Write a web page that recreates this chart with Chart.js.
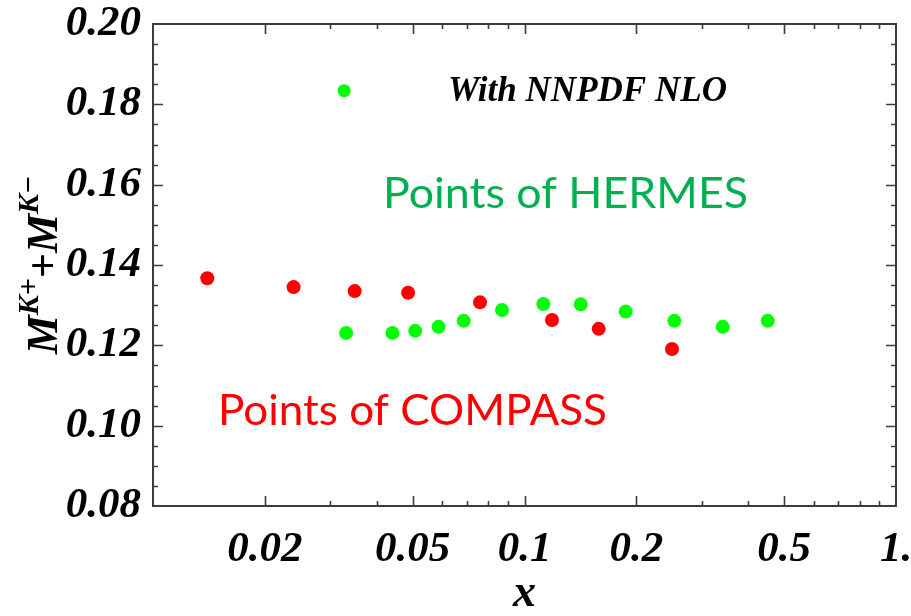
<!DOCTYPE html>
<html><head><meta charset="utf-8">
<script src="https://cdn.jsdelivr.net/npm/chart.js@4"></script>
<style>html,body{margin:0;padding:0;background:#fff}#wrap{width:911px;height:616px;position:relative}</style>
</head><body><div id="wrap"><canvas id="c" width="911" height="616"></canvas></div>
<script>
// ---- data ----
const compassX = [0.0140, 0.0239, 0.0349, 0.0486, 0.0759, 0.1186, 0.1584, 0.2495];
const compassY = [0.1367, 0.1345, 0.1335, 0.1331, 0.1307, 0.1263, 0.1241, 0.1191];
const hermesX = [0.0331, 0.0441, 0.0508, 0.0587, 0.0686, 0.0870, 0.1124, 0.1417, 0.1873, 0.2531, 0.3416, 0.4515];
const hermesY = [0.1231, 0.1231, 0.1236, 0.1246, 0.1261, 0.1288, 0.1303, 0.1302, 0.1284, 0.1261, 0.1246, 0.1261];
const markerX = [0.0327];
const markerY = [0.1834];
const xTickValues = [0.02, 0.05, 0.1, 0.2, 0.5, 1];
const xTickLabels = ['0.02', '0.05', '0.1', '0.2', '0.5', '1.'];
const xMinorTicks = [0.03, 0.04, 0.06, 0.07, 0.08, 0.09, 0.3, 0.4, 0.6, 0.7, 0.8, 0.9];
const yTickValues = [0.08, 0.10, 0.12, 0.14, 0.16, 0.18, 0.20];
const yTickLabels = ['0.08', '0.10', '0.12', '0.14', '0.16', '0.18', '0.20'];
const yMinorTicks = [0.085, 0.09, 0.095, 0.105, 0.11, 0.115, 0.125, 0.13, 0.135, 0.145, 0.15, 0.155, 0.165, 0.17, 0.175, 0.185, 0.19, 0.195];
const annotationTexts = ['With NNPDF NLO', 'Points of HERMES', 'Points of COMPASS'];

const toPts = (xs, ys) => xs.map((x, i) => ({x: x, y: ys[i]}));

const SERIF = '"Liberation Serif", "DejaVu Serif", serif';

const framePlugin = {
  id: 'frame',
  afterDatasetsDraw(chart) {
    const ctx = chart.ctx, ca = chart.chartArea;
    const xs = chart.scales.x, ys = chart.scales.y;
    ctx.save();
    ctx.strokeStyle = '#3c3c3c';
    ctx.lineWidth = 2;
    ctx.strokeRect(ca.left, ca.top, ca.right - ca.left, ca.bottom - ca.top);
    ctx.lineWidth = 1.6;
    ctx.beginPath();
    const xt = (vals, len) => vals.forEach(v => {
      const p = Math.round(xs.getPixelForValue(v)) + 0.5;
      ctx.moveTo(p, ca.bottom); ctx.lineTo(p, ca.bottom - len);
      ctx.moveTo(p, ca.top); ctx.lineTo(p, ca.top + len);
    });
    const yt = (vals, len) => vals.forEach(v => {
      const p = Math.round(ys.getPixelForValue(v)) + 0.5;
      ctx.moveTo(ca.left, p); ctx.lineTo(ca.left + len, p);
      ctx.moveTo(ca.right, p); ctx.lineTo(ca.right - len, p);
    });
    xt(xTickValues.filter(v => v < 1), 10);
    xt(xMinorTicks, 5);
    yt(yTickValues.filter(v => v > 0.08 && v < 0.2), 10);
    yt(yMinorTicks, 5);
    ctx.stroke();
    ctx.restore();
  }
};

function fitText(ctx, text, style, size, family, target, x, y) {
  ctx.font = style + ' ' + size + 'px ' + family;
  const w = ctx.measureText(text).width;
  ctx.save();
  ctx.translate(x, y);
  ctx.scale(target / w, 1);
  ctx.fillText(text, 0, 0);
  ctx.restore();
}

const textPlugin = {
  id: 'texts',
  afterDraw(chart) {
    const ctx = chart.ctx;
    ctx.save();
    ctx.textBaseline = 'alphabetic';
    ctx.textAlign = 'left';
    // annotations
    ctx.fillStyle = '#000';
    fitText(ctx, annotationTexts[0], 'italic bold', 35, SERIF, 279, 448, 101);
    ctx.fillStyle = '#00b050';
    fitText(ctx, annotationTexts[1], 'normal', 43, 'Lato, "Open Sans", sans-serif', 365, 383, 208);
    ctx.fillStyle = '#ff0000';
    fitText(ctx, annotationTexts[2], 'normal', 43, 'Lato, "Open Sans", sans-serif', 389, 218, 425);

    // y axis title  M^{K+}+M^{K-}
    const big = 'italic bold 44px ' + SERIF;
    const sm = 'italic bold 30px ' + SERIF;
    const parts = [
      {t: 'M', f: big, dy: 0},
      {t: 'K+', f: sm, dy: -19},
      {t: '+', f: 'bold 44px ' + SERIF, dy: 0},
      {t: 'M', f: big, dy: 0},
      {t: 'K\u2212', f: sm, dy: -19}
    ];
    let total = 0;
    parts.forEach(p => { ctx.font = p.f; p.w = ctx.measureText(p.t).width; total += p.w; });
    const ca = chart.chartArea;
    ctx.translate(57, (ca.top + ca.bottom) / 2);
    ctx.rotate(-Math.PI / 2);
    ctx.fillStyle = '#000';
    let x = -total / 2;
    parts.forEach(p => { ctx.font = p.f; ctx.fillText(p.t, x, p.dy); x += p.w; });
    ctx.restore();
  }
};

const tickFont = {family: SERIF, size: 43, style: 'italic', weight: 'bold'};
const noPad = s => { s.paddingTop = 0; s.paddingBottom = 0; s.paddingLeft = 0; s.paddingRight = 0; };

new Chart(document.getElementById('c'), {
  type: 'scatter',
  data: {
    datasets: [
      {label: 'COMPASS', data: toPts(compassX, compassY), backgroundColor: '#ff0000', pointRadius: 7, borderWidth: 0},
      {label: 'HERMES', data: toPts(hermesX, hermesY), backgroundColor: '#00ff00', pointRadius: 7, borderWidth: 0},
      {label: 'marker', data: toPts(markerX, markerY), backgroundColor: '#00ff00', pointRadius: 6.5, borderWidth: 0}
    ]
  },
  options: {
    responsive: false,
    animation: false,
    devicePixelRatio: 1,
    layout: {padding: {top: 24, right: 15, left: 0, bottom: 0}},
    plugins: {legend: {display: false}, tooltip: {enabled: false}},
    scales: {
      x: {
        type: 'logarithmic', min: 0.01, max: 1,
        afterBuildTicks: s => { s.ticks = xTickValues.map(v => ({value: v})); },
        afterFit: s => { s.height = 110; noPad(s); },
        grid: {display: false, drawTicks: false},
        border: {display: false},
        ticks: {autoSkip: false, maxRotation: 0, padding: 18, color: '#000', font: tickFont,
          callback: (v, i) => xTickLabels[i]},
        title: {display: true, text: 'x', color: '#000', font: {family: SERIF, size: 46, style: 'italic', weight: 'bold'}, padding: {top: 0, bottom: -6}}
      },
      y: {
        type: 'linear', min: 0.08, max: 0.20,
        afterBuildTicks: s => { s.ticks = yTickValues.map(v => ({value: v})); },
        afterFit: s => { s.width = 153; noPad(s); },
        grid: {display: false, drawTicks: false},
        border: {display: false},
        ticks: {autoSkip: false, padding: 12, color: '#000', font: tickFont,
          callback: (v, i) => yTickLabels[i]}
      }
    }
  },
  plugins: [framePlugin, textPlugin]
});
</script>
</body></html>
